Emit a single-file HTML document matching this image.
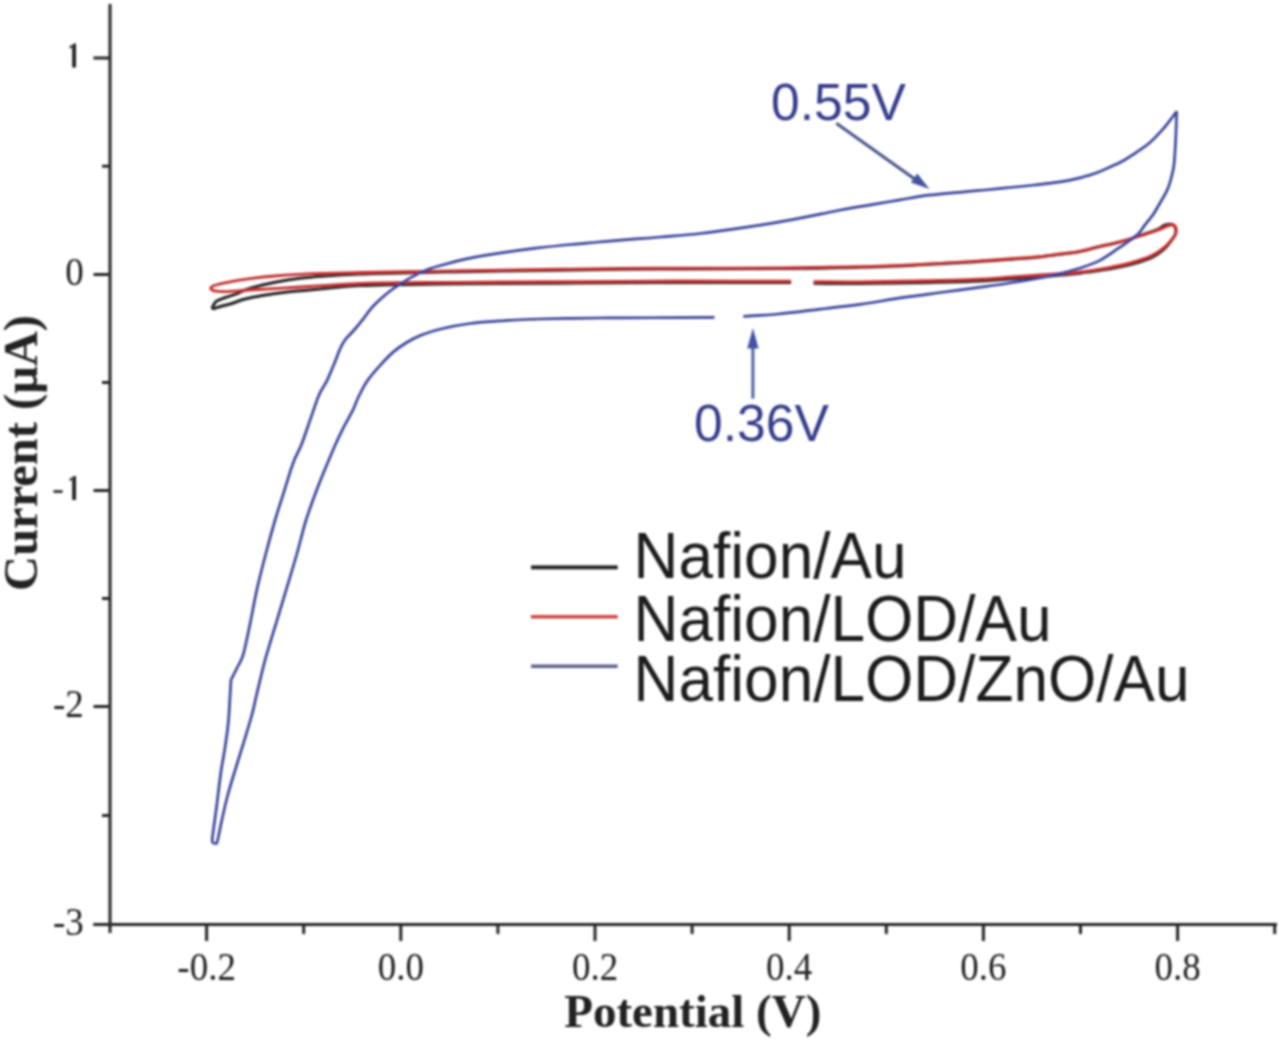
<!DOCTYPE html>
<html><head><meta charset="utf-8"><title>CV</title>
<style>
html,body{margin:0;padding:0;background:#fff;}
body{width:1280px;height:1042px;overflow:hidden;}
svg{display:block;}

.tk{font-family:"Liberation Serif",serif;font-size:37px;fill:#222;}
.ttl{font-family:"Liberation Serif",serif;font-size:47px;font-weight:bold;fill:#222;}
.ann{font-family:"Liberation Sans",sans-serif;font-size:51.6px;fill:#363e8c;}
.lg{font-family:"Liberation Sans",sans-serif;font-size:62.15px;fill:#1e1e1e;}
</style></head>
<body>
<svg width="1280" height="1042" viewBox="0 0 1280 1042">
<defs><filter id="bl" x="0" y="0" width="1280" height="1042" filterUnits="userSpaceOnUse"><feGaussianBlur stdDeviation="0.8"/></filter></defs>
<rect width="1280" height="1042" fill="#fff"/>
<g filter="url(#bl)">
<line x1="110" y1="4" x2="110" y2="933" stroke="#262626" stroke-width="3"/>
<line x1="93.5" y1="924.5" x2="1277" y2="924.5" stroke="#262626" stroke-width="3"/>
<line x1="93.5" y1="58.0" x2="110" y2="58.0" stroke="#262626" stroke-width="3"/>
<line x1="93.5" y1="274.5" x2="110" y2="274.5" stroke="#262626" stroke-width="3"/>
<line x1="93.5" y1="490.5" x2="110" y2="490.5" stroke="#262626" stroke-width="3"/>
<line x1="93.5" y1="706.5" x2="110" y2="706.5" stroke="#262626" stroke-width="3"/>
<line x1="93.5" y1="924.5" x2="110" y2="924.5" stroke="#262626" stroke-width="3"/>
<line x1="102" y1="166.2" x2="110" y2="166.2" stroke="#262626" stroke-width="3"/>
<line x1="102" y1="382.5" x2="110" y2="382.5" stroke="#262626" stroke-width="3"/>
<line x1="102" y1="598.5" x2="110" y2="598.5" stroke="#262626" stroke-width="3"/>
<line x1="102" y1="815.5" x2="110" y2="815.5" stroke="#262626" stroke-width="3"/>
<line x1="206.6" y1="924" x2="206.6" y2="941.0" stroke="#262626" stroke-width="3"/>
<line x1="303.7" y1="924" x2="303.7" y2="934.0" stroke="#262626" stroke-width="3"/>
<line x1="400.8" y1="924" x2="400.8" y2="941.0" stroke="#262626" stroke-width="3"/>
<line x1="497.9" y1="924" x2="497.9" y2="934.0" stroke="#262626" stroke-width="3"/>
<line x1="595.0" y1="924" x2="595.0" y2="941.0" stroke="#262626" stroke-width="3"/>
<line x1="692.1" y1="924" x2="692.1" y2="934.0" stroke="#262626" stroke-width="3"/>
<line x1="789.2" y1="924" x2="789.2" y2="941.0" stroke="#262626" stroke-width="3"/>
<line x1="886.3" y1="924" x2="886.3" y2="934.0" stroke="#262626" stroke-width="3"/>
<line x1="983.4" y1="924" x2="983.4" y2="941.0" stroke="#262626" stroke-width="3"/>
<line x1="1080.5" y1="924" x2="1080.5" y2="934.0" stroke="#262626" stroke-width="3"/>
<line x1="1177.6" y1="924" x2="1177.6" y2="941.0" stroke="#262626" stroke-width="3"/>
<line x1="1274.7" y1="924" x2="1274.7" y2="934.0" stroke="#262626" stroke-width="3"/>
<path d="M72.2 44.2 L76.0 43.2 L76.0 67.6 L72.2 67.6 Z M72.6 44.2 L69.4 46.8 L69.4 48.2 L72.6 47.4 Z" fill="#222"/>
<text transform="translate(83.8,285.3) scale(1,1.06)" text-anchor="end" class="tk">0</text>
<path d="M72.2 476.7 L76.0 475.7 L76.0 500.1 L72.2 500.1 Z M72.6 476.7 L69.4 479.3 L69.4 480.7 L72.6 479.9 Z" fill="#222"/>
<rect x="53.6" y="490.2" width="9" height="2.6" fill="#222"/>
<text transform="translate(83.8,717.3) scale(1,1.06)" text-anchor="end" class="tk">-2</text>
<text transform="translate(83.8,935.3) scale(1,1.06)" text-anchor="end" class="tk">-3</text>
<text transform="translate(206.6,979.6) scale(1,1.06)" text-anchor="middle" class="tk">-0.2</text>
<text transform="translate(400.8,979.6) scale(1,1.06)" text-anchor="middle" class="tk">0.0</text>
<text transform="translate(595.0,979.6) scale(1,1.06)" text-anchor="middle" class="tk">0.2</text>
<text transform="translate(789.2,979.6) scale(1,1.06)" text-anchor="middle" class="tk">0.4</text>
<text transform="translate(983.4,979.6) scale(1,1.06)" text-anchor="middle" class="tk">0.6</text>
<text transform="translate(1177.6,979.6) scale(1,1.06)" text-anchor="middle" class="tk">0.8</text>
<text x="692.8" y="1027" text-anchor="middle" class="ttl">Potential (V)</text>
<text transform="translate(37,453) rotate(-90)" text-anchor="middle" class="ttl" style="font-size:48.5px">Current (μA)</text>
<path d="M813.6 283.3 C821.3 283.3 842.9 283.6 860.0 283.5 C877.1 283.4 897.2 283.1 916.0 282.7 C934.8 282.3 956.0 282.0 972.5 281.3 C989.0 280.6 1003.5 279.5 1014.7 278.7 C1026.0 277.9 1030.8 277.4 1040.0 276.7 C1049.2 276.0 1061.6 275.1 1069.8 274.3 C1078.0 273.5 1082.8 272.8 1089.3 271.9 C1095.8 271.0 1102.3 270.1 1108.8 269.0 C1115.3 267.9 1121.9 266.8 1128.4 265.1 C1134.9 263.5 1143.0 261.0 1147.9 259.1 C1152.8 257.2 1154.8 255.9 1157.7 254.0 C1160.6 252.1 1163.3 250.0 1165.5 247.8 C1167.7 245.6 1169.3 243.3 1171.0 241.0 C1172.7 238.7 1174.8 236.3 1175.5 234.0 C1176.2 231.7 1175.7 228.6 1175.0 227.0 C1174.3 225.4 1173.3 224.6 1171.5 224.3 C1169.7 224.1 1166.3 224.6 1164.0 225.5 C1161.7 226.4 1162.0 227.7 1157.7 229.5 C1153.4 231.3 1144.6 234.2 1138.1 236.3 C1131.6 238.4 1125.1 240.6 1118.6 242.3 C1112.1 244.0 1105.4 245.2 1099.0 246.7 C1092.6 248.2 1086.5 250.2 1080.0 251.5 C1073.5 252.8 1066.7 253.4 1060.0 254.3 C1053.3 255.2 1047.5 256.1 1040.0 256.9 C1032.5 257.7 1026.0 258.1 1014.7 258.9 C1003.5 259.7 989.0 260.9 972.5 261.9 C956.0 262.9 934.8 264.2 916.0 265.1 C897.2 266.0 882.7 266.7 860.0 267.3 C837.3 267.9 810.0 268.2 780.0 268.5 C750.0 268.8 706.7 268.9 680.0 269.0 C653.3 269.1 650.0 268.9 620.0 269.3 C590.0 269.7 530.0 270.6 500.0 271.1 C470.0 271.6 463.3 271.6 440.0 272.1 C416.7 272.6 381.2 273.2 360.0 274.0 C338.8 274.8 324.6 275.9 312.5 276.9 C300.4 277.9 295.8 278.6 287.5 280.0 C279.2 281.4 269.6 283.3 262.5 285.0 C255.4 286.7 249.4 288.5 245.0 290.0 C240.6 291.5 239.3 292.9 235.8 294.2 C232.3 295.5 227.4 296.8 224.2 298.0 C221.0 299.2 218.4 299.9 216.5 301.2 C214.6 302.5 213.6 304.8 213.0 306.0 C212.4 307.2 212.2 308.2 212.7 308.5 C213.2 308.8 214.7 308.3 216.0 308.0 C217.3 307.7 217.8 307.2 220.4 306.5 C223.1 305.8 227.8 304.8 231.9 303.5 C236.0 302.2 239.9 300.3 245.0 299.0 C250.1 297.7 255.4 296.7 262.5 295.5 C269.6 294.3 277.1 293.1 287.5 292.0 C297.9 290.9 312.9 289.7 325.0 288.6 C337.1 287.5 340.8 286.4 360.0 285.6 C379.2 284.8 416.7 284.3 440.0 284.0 C463.3 283.7 470.0 283.8 500.0 283.6 C530.0 283.4 590.0 283.0 620.0 282.8 C650.0 282.6 651.5 282.6 680.0 282.6 C708.5 282.6 772.6 282.6 791.1 282.6" fill="none" stroke="#222" stroke-width="3" stroke-linejoin="round"/>
<path d="M813.6 281.6 C821.3 281.6 842.9 281.9 860.0 281.8 C877.1 281.7 897.2 281.3 916.0 280.9 C934.8 280.5 956.0 280.1 972.5 279.4 C989.0 278.7 1003.5 277.4 1014.7 276.7 C1026.0 276.0 1030.8 275.6 1040.0 275.0 C1049.2 274.4 1061.6 273.7 1069.8 273.0 C1078.0 272.3 1082.8 271.7 1089.3 270.8 C1095.8 269.9 1102.3 268.8 1108.8 267.6 C1115.3 266.4 1121.9 265.1 1128.4 263.4 C1134.9 261.7 1143.0 259.1 1147.9 257.2 C1152.8 255.3 1154.8 253.9 1157.7 252.1 C1160.6 250.3 1163.4 248.2 1165.5 246.3 C1167.6 244.5 1169.0 242.8 1170.5 241.0 C1172.0 239.2 1173.8 237.3 1174.8 235.5 C1175.8 233.7 1176.4 231.8 1176.3 230.0 C1176.2 228.2 1175.4 225.7 1174.0 225.0 C1172.6 224.3 1170.7 224.9 1168.0 225.8 C1165.3 226.7 1162.7 228.5 1157.7 230.3 C1152.7 232.1 1144.6 234.5 1138.1 236.5 C1131.6 238.5 1125.1 240.6 1118.6 242.3 C1112.1 244.0 1105.4 245.0 1099.0 246.5 C1092.6 248.0 1086.5 250.1 1080.0 251.3 C1073.5 252.6 1066.7 253.1 1060.0 254.0 C1053.3 254.9 1047.5 255.9 1040.0 256.6 C1032.5 257.4 1026.0 257.7 1014.7 258.5 C1003.5 259.3 989.0 260.3 972.5 261.3 C956.0 262.3 934.8 263.7 916.0 264.6 C897.2 265.5 882.7 266.2 860.0 266.7 C837.3 267.2 810.0 267.6 780.0 267.8 C750.0 268.1 706.7 268.1 680.0 268.2 C653.3 268.3 650.0 268.1 620.0 268.4 C590.0 268.7 530.0 269.8 500.0 270.2 C470.0 270.6 463.3 270.7 440.0 271.1 C416.7 271.5 381.2 272.1 360.0 272.5 C338.8 272.9 326.7 273.1 312.5 273.7 C298.3 274.3 285.4 275.2 275.0 276.0 C264.6 276.8 258.3 277.6 250.0 278.7 C241.7 279.8 231.2 281.6 225.0 282.8 C218.8 284.0 215.3 285.0 213.0 286.0 C210.7 287.0 210.5 288.1 211.0 289.0 C211.5 289.9 213.7 290.8 216.0 291.2 C218.3 291.6 219.3 291.8 225.0 291.6 C230.7 291.4 237.5 290.8 250.0 290.0 C262.5 289.2 283.3 288.0 300.0 287.0 C316.7 286.0 336.7 284.7 350.0 284.0 C363.3 283.3 365.0 283.1 380.0 282.8 C395.0 282.5 420.0 282.5 440.0 282.4 C460.0 282.3 470.0 282.2 500.0 282.0 C530.0 281.8 590.0 281.5 620.0 281.3 C650.0 281.1 651.5 281.0 680.0 281.0 C708.5 281.0 772.6 281.2 791.1 281.2" fill="none" stroke="#c43030" stroke-width="2.8" stroke-linejoin="round"/>
<path d="M214.5 843.8 C214.1 843.3 212.3 843.5 212.2 841.0 C212.0 838.5 212.8 834.8 213.6 828.6 C214.4 822.5 215.7 813.6 216.9 804.1 C218.1 794.6 219.6 781.0 221.0 771.5 C222.4 762.0 223.9 755.2 225.1 747.1 C226.3 739.0 227.5 730.5 228.3 722.6 C229.1 714.8 229.4 707.1 229.8 700.0 C230.2 692.9 230.8 683.3 231.0 680.0 L231.0 680.0 C232.1 677.8 235.5 671.2 237.5 667.0 C239.5 662.8 241.1 661.9 243.2 654.7 C245.3 647.5 247.8 634.5 250.1 623.6 C252.4 612.7 254.4 600.6 257.0 589.1 C259.6 577.6 262.6 566.0 265.6 554.5 C268.6 543.0 272.2 530.0 275.1 520.0 C278.0 510.1 280.6 502.6 283.0 494.8 C285.4 487.0 287.8 479.2 289.7 473.3 C291.6 467.4 292.5 464.4 294.5 459.5 C296.5 454.6 299.0 450.8 301.8 443.7 C304.6 436.6 308.3 425.0 311.2 416.9 C314.1 408.8 316.4 401.0 319.0 395.0 C321.6 389.0 324.2 386.4 326.9 380.9 C329.5 375.4 332.7 367.5 334.9 362.1 C337.1 356.7 338.6 352.0 340.3 348.3 C342.0 344.6 342.8 343.0 345.0 340.0 C347.2 337.0 350.7 334.0 353.7 330.5 C356.7 327.0 360.2 322.8 363.1 319.1 C366.0 315.4 368.3 311.8 371.2 308.4 C374.1 305.0 377.2 302.1 380.6 299.0 C384.0 295.9 387.8 292.7 391.4 290.0 C395.0 287.3 397.9 285.4 402.1 282.8 C406.4 280.2 412.4 276.7 416.9 274.4 C421.4 272.1 425.2 270.6 429.0 269.1 C432.8 267.7 432.2 267.6 439.7 265.7 C447.2 263.8 457.7 260.3 473.8 257.4 C489.8 254.5 515.2 250.8 536.0 248.2 C556.8 245.6 577.9 243.9 598.8 242.0 C619.6 240.1 644.1 238.4 661.0 237.0 C677.9 235.6 685.7 235.1 700.0 233.5 C714.3 231.9 731.3 229.5 746.9 227.2 C762.5 224.8 778.1 222.3 793.8 219.4 C809.4 216.5 827.6 212.5 840.6 210.0 C853.6 207.5 862.0 206.3 871.9 204.6 C881.8 202.9 890.5 201.5 900.0 199.9 C909.5 198.3 917.7 196.6 928.8 195.2 C939.8 193.8 956.9 192.5 966.2 191.6 C975.6 190.7 977.7 190.7 985.0 190.0 C992.3 189.3 1001.7 188.3 1010.0 187.5 C1018.3 186.7 1026.7 185.9 1035.0 185.0 C1043.3 184.1 1052.7 183.1 1060.0 181.9 C1067.3 180.8 1072.5 179.7 1078.8 178.1 C1085.0 176.5 1092.3 174.4 1097.5 172.5 C1102.7 170.6 1106.2 168.6 1110.0 166.9 C1113.8 165.2 1116.4 164.4 1120.0 162.5 C1123.6 160.6 1127.0 158.5 1131.8 155.3 C1136.6 152.1 1144.2 147.2 1149.1 143.2 C1154.0 139.2 1157.8 134.8 1161.2 131.1 C1164.7 127.3 1167.2 124.0 1169.8 120.7 C1172.4 117.4 1175.5 112.8 1176.7 111.2" fill="none" stroke="#38439a" stroke-width="2.7" stroke-linejoin="round"/>
<path d="M1176.7 111.2 C1176.6 115.1 1176.2 127.7 1175.9 134.5 C1175.6 141.3 1175.4 146.0 1175.0 151.8 C1174.6 157.6 1174.5 163.1 1173.3 169.1 C1172.1 175.1 1170.2 182.6 1168.1 188.1 C1166.0 193.6 1163.1 197.5 1160.6 202.0 C1158.0 206.5 1155.4 211.2 1152.8 215.0 C1150.2 218.8 1147.5 221.6 1145.0 224.8 C1142.5 228.0 1140.9 231.2 1138.1 234.0 C1135.3 236.8 1131.7 239.0 1128.4 241.4 C1125.2 243.8 1123.5 244.9 1118.6 248.2 C1113.7 251.4 1105.5 257.6 1099.0 260.9 C1092.5 264.2 1086.0 266.1 1079.5 268.2 C1073.0 270.3 1066.6 272.0 1060.0 273.6 C1053.4 275.2 1047.5 276.6 1040.0 278.0 C1032.5 279.4 1023.6 280.8 1014.7 282.2 C1005.8 283.6 998.3 284.8 986.6 286.4 C974.9 288.0 958.5 290.1 944.4 292.0 C930.3 293.9 916.3 295.6 902.2 297.7 C888.1 299.8 873.6 302.5 860.0 304.4 C846.4 306.3 834.2 307.5 820.6 309.1 C807.0 310.7 791.3 312.8 778.4 314.0 C765.5 315.2 749.1 315.9 743.3 316.3" fill="none" stroke="#38439a" stroke-width="2.7" stroke-linejoin="round"/>
<path d="M714.5 317.4 C708.8 317.4 695.8 317.5 680.0 317.6 C664.2 317.7 633.5 317.8 620.0 317.9 C606.5 318.0 612.1 317.8 598.8 318.0 C585.4 318.2 555.6 318.6 540.0 319.0 C524.4 319.4 516.7 319.9 505.0 320.6 C493.3 321.4 480.9 322.1 470.0 323.5 C459.1 324.9 447.9 327.2 439.7 329.2 C431.5 331.1 426.3 333.1 420.9 335.2 C415.5 337.3 412.0 339.3 407.5 342.0 C403.0 344.7 398.5 347.6 394.0 351.4 C389.5 355.2 385.1 359.9 380.6 364.8 C376.1 369.7 371.0 375.4 367.2 380.9 C363.4 386.4 360.4 393.1 358.0 398.0 C355.6 402.9 355.5 404.8 352.9 410.2 C350.2 415.6 345.2 424.0 342.1 430.3 C339.0 436.6 337.1 440.6 334.0 447.8 C330.9 455.0 326.7 465.0 323.3 473.3 C319.9 481.6 316.9 489.4 313.9 497.5 C310.9 505.6 308.4 512.5 305.5 522.0 C302.6 531.5 299.9 543.3 296.7 554.5 C293.5 565.7 289.8 577.6 286.4 589.1 C282.9 600.6 279.5 612.1 276.0 623.6 C272.5 635.1 268.8 646.6 265.6 658.2 C262.4 669.8 259.3 683.6 257.0 693.0 C254.7 702.4 254.2 706.3 252.0 714.5 C249.8 722.7 246.5 733.2 243.8 742.2 C241.1 751.2 238.4 759.3 235.7 768.3 C233.0 777.3 229.8 787.3 227.5 796.0 C225.2 804.7 223.4 813.1 221.8 820.4 C220.2 827.7 218.6 836.2 217.7 840.0 C216.8 843.8 217.0 842.7 216.5 843.3 C216.0 843.9 214.8 843.7 214.5 843.8" fill="none" stroke="#38439a" stroke-width="2.7" stroke-linejoin="round"/>
<text x="771" y="119.8" class="ann">0.55V</text>
<text x="694" y="441.4" class="ann">0.36V</text>
<line x1="836.3" y1="123.3" x2="916" y2="180" stroke="#4a5288" stroke-width="3"/>
<polygon points="929.5,189 910.9,182.4 917.3,173.4" fill="#4352a0"/>
<line x1="752.9" y1="398.6" x2="752.9" y2="345" stroke="#5060a0" stroke-width="3"/>
<polygon points="752.9,328 747.2,348.5 758.6,348.5" fill="#4352a8"/>
<line x1="531" y1="567.3" x2="617.7" y2="567.3" stroke="#1a1a1a" stroke-width="3.8"/>
<line x1="531" y1="616.7" x2="617.7" y2="616.7" stroke="#cc4444" stroke-width="3.6"/>
<line x1="531" y1="666.3" x2="617.7" y2="666.3" stroke="#5c6288" stroke-width="3.6"/>
<text transform="translate(633.6,577.6) scale(1,1.045)" class="lg">Nafion/Au</text>
<text transform="translate(633.6,640.6) scale(1,1.045)" class="lg">Nafion/LOD/Au</text>
<text transform="translate(633.6,700.8) scale(1,1.045)" class="lg">Nafion/LOD/ZnO/Au</text>
</g>
</svg>
</body></html>
